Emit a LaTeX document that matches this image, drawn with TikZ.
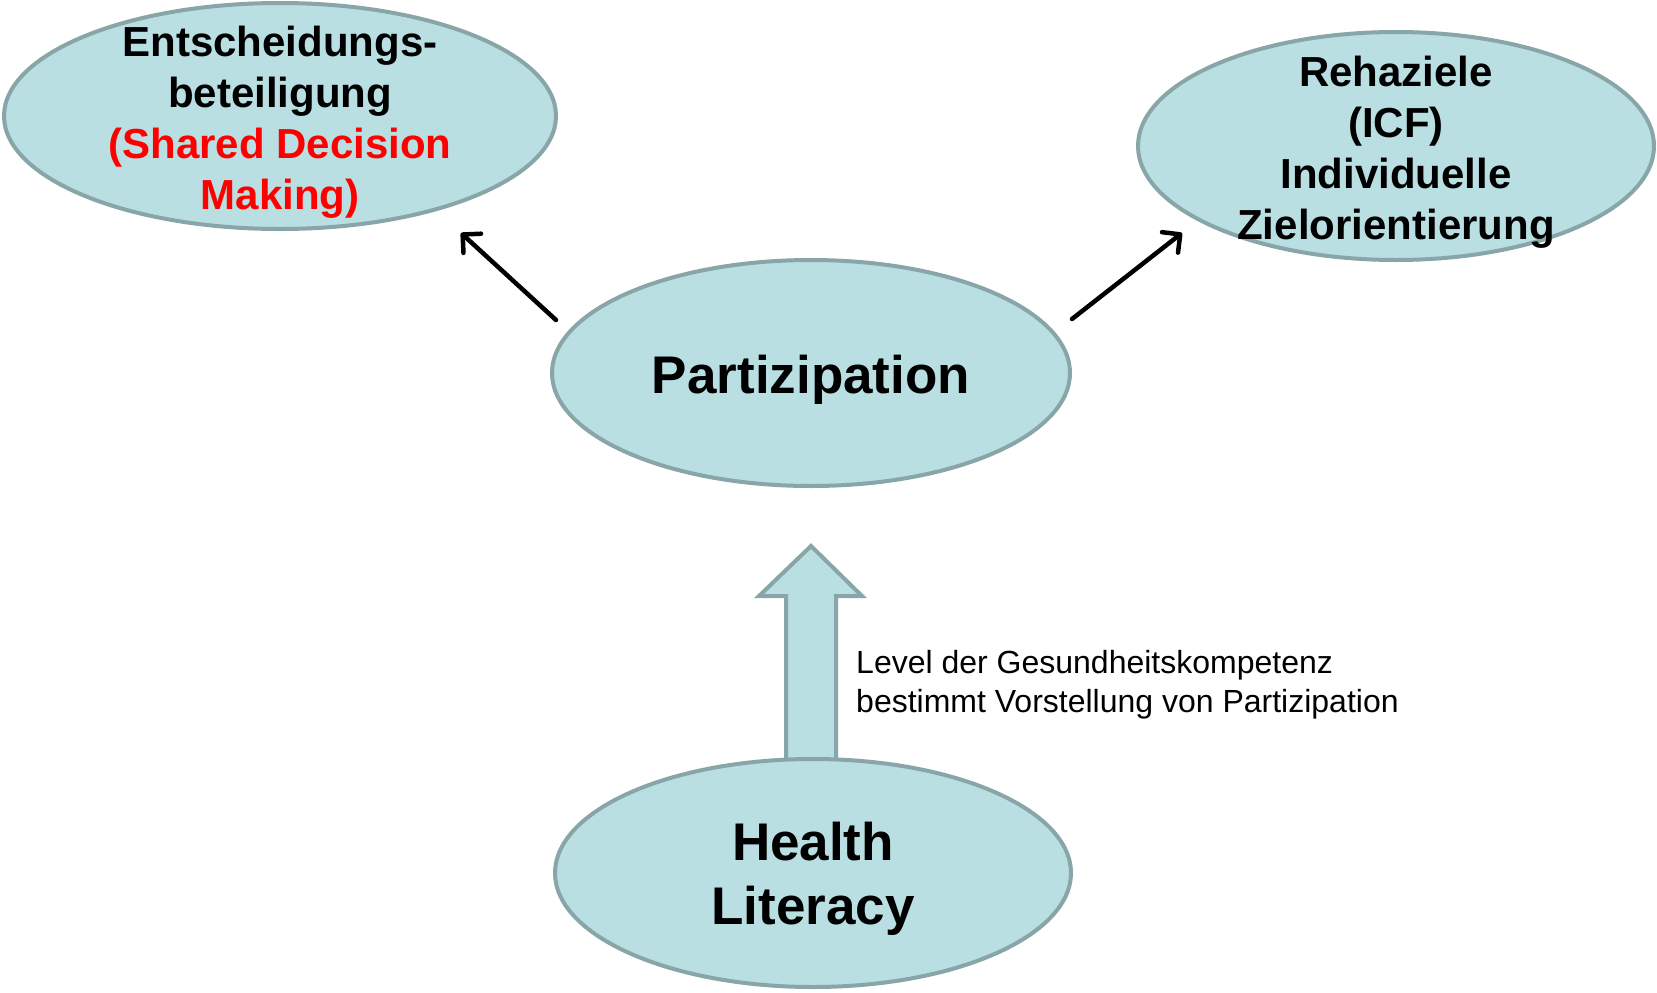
\documentclass[tikz,border=0pt]{standalone}
\usepackage{fontspec}
\setmainfont{Liberation Sans}
\usetikzlibrary{shapes.geometric,arrows.meta}
\definecolor{efill}{HTML}{B9DFE3}
\definecolor{edraw}{HTML}{88A5A7}
\definecolor{sdred}{HTML}{FF0000}
\tikzset{
  bub/.style={ellipse, draw=edraw, fill=efill, line width=4pt, inner sep=0pt},
  label/.style={align=center, inner sep=0pt},
  smalltitle/.style={font=\fontsize{42}{51}\selectfont\bfseries},
  bigtitle/.style={font=\fontsize{53}{64}\selectfont\bfseries},
  conn/.style={line width=4.5pt, line cap=round, line join=round, -{Straight Barb[length=13pt,width=26pt,line cap=round,line join=round]}},
  blockarrow/.style={draw=edraw, fill=efill, line width=4pt, line join=miter},
  note/.style={font=\fontsize{32}{39}\selectfont, align=left, anchor=north west, inner sep=0pt}
}
\begin{document}
\begin{tikzpicture}[x=1pt,y=-1pt]
\useasboundingbox (0,0) rectangle (1657,993);
% block arrow
\draw[blockarrow] (786,761) -- (786,596) -- (759,596) -- (811,546) -- (862,596) -- (836,596) -- (836,761);
\node[bub, minimum width=552pt, minimum height=226pt] (sdm) at (280,116) {};
\node[bub, minimum width=516pt, minimum height=228pt] (reha) at (1396,146) {};
\node[bub, minimum width=518pt, minimum height=226pt] (part) at (811,373) {};
\node[bub, minimum width=516pt, minimum height=228pt] (hl) at (813,873) {};
\node[label, smalltitle] (sdmt) at ([yshift=-6pt]sdm.center)
  {Entscheidungs-\\beteiligung\\\textcolor{sdred}{(Shared Decision}\\\textcolor{sdred}{Making)}};
\node[label, smalltitle] (rehat) at ([yshift=-6pt]reha.center)
  {Rehaziele\\(ICF)\\Individuelle\\Zielorientierung};
\node[label, bigtitle] (partt) at ([yshift=-7pt]part.center) {Partizipation};
\node[label, bigtitle] (hlt) at ([yshift=-6pt]hl.center) {Health\\Literacy};
\coordinate (a1s) at (556,320);
\coordinate (a1e) at (461,233);
\coordinate (a2s) at (1072,319);
\coordinate (a2e) at (1182,233);
\draw[conn] (a1s) -- (a1e);
\draw[conn] (a2s) -- (a2e);
\node[note] (lvl) at (856,650) {Level der Gesundheitskompetenz\\bestimmt Vorstellung von Partizipation};
\end{tikzpicture}
\end{document}
